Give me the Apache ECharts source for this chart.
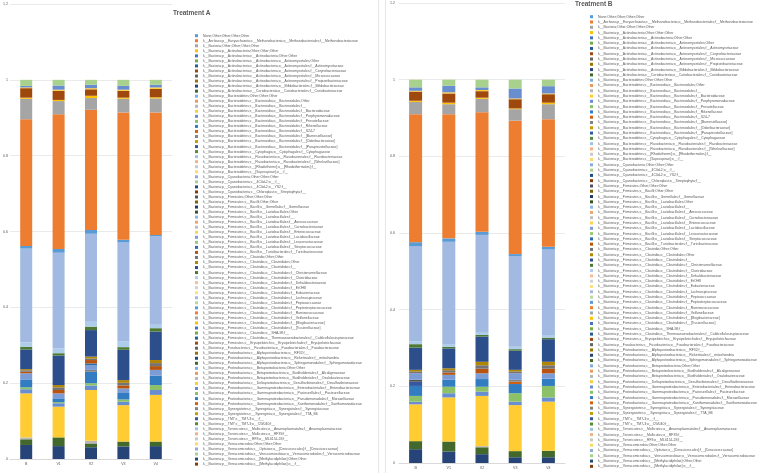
<!DOCTYPE html>
<html><head><meta charset="utf-8">
<script src="https://cdn.jsdelivr.net/npm/echarts@6/dist/echarts.min.js"></script>
<style>html,body{margin:0;padding:0;background:#fff}#c{width:757px;height:473px}</style>
</head><body><div id="c"></div>
<script>
// ---------- data ----------
const categories = ['B', 'V1', 'V2', 'V3', 'V4'];
const titles = ['Treatment A', 'Treatment B'];
const taxa = [
"None;Other;Other;Other;Other",
"k__Archaea;p__Euryarchaeota;c__Methanobacteria;o__Methanobacteriales;f__Methanobacteriaceae",
"k__Bacteria;Other;Other;Other;Other",
"k__Bacteria;p__Actinobacteria;Other;Other;Other",
"k__Bacteria;p__Actinobacteria;c__Actinobacteria;Other;Other",
"k__Bacteria;p__Actinobacteria;c__Actinobacteria;o__Actinomycetales;Other",
"k__Bacteria;p__Actinobacteria;c__Actinobacteria;o__Actinomycetales;f__Actinomycetaceae",
"k__Bacteria;p__Actinobacteria;c__Actinobacteria;o__Actinomycetales;f__Corynebacteriaceae",
"k__Bacteria;p__Actinobacteria;c__Actinobacteria;o__Actinomycetales;f__Micrococcaceae",
"k__Bacteria;p__Actinobacteria;c__Actinobacteria;o__Actinomycetales;f__Propionibacteriaceae",
"k__Bacteria;p__Actinobacteria;c__Actinobacteria;o__Bifidobacteriales;f__Bifidobacteriaceae",
"k__Bacteria;p__Actinobacteria;c__Coriobacteriia;o__Coriobacteriales;f__Coriobacteriaceae",
"k__Bacteria;p__Bacteroidetes;Other;Other;Other",
"k__Bacteria;p__Bacteroidetes;c__Bacteroidia;o__Bacteroidales;Other",
"k__Bacteria;p__Bacteroidetes;c__Bacteroidia;o__Bacteroidales;f__",
"k__Bacteria;p__Bacteroidetes;c__Bacteroidia;o__Bacteroidales;f__Bacteroidaceae",
"k__Bacteria;p__Bacteroidetes;c__Bacteroidia;o__Bacteroidales;f__Porphyromonadaceae",
"k__Bacteria;p__Bacteroidetes;c__Bacteroidia;o__Bacteroidales;f__Prevotellaceae",
"k__Bacteria;p__Bacteroidetes;c__Bacteroidia;o__Bacteroidales;f__Rikenellaceae",
"k__Bacteria;p__Bacteroidetes;c__Bacteroidia;o__Bacteroidales;f__S24-7",
"k__Bacteria;p__Bacteroidetes;c__Bacteroidia;o__Bacteroidales;f__[Barnesiellaceae]",
"k__Bacteria;p__Bacteroidetes;c__Bacteroidia;o__Bacteroidales;f__[Odoribacteraceae]",
"k__Bacteria;p__Bacteroidetes;c__Bacteroidia;o__Bacteroidales;f__[Paraprevotellaceae]",
"k__Bacteria;p__Bacteroidetes;c__Cytophagia;o__Cytophagales;f__Cytophagaceae",
"k__Bacteria;p__Bacteroidetes;c__Flavobacteriia;o__Flavobacteriales;f__Flavobacteriaceae",
"k__Bacteria;p__Bacteroidetes;c__Flavobacteriia;o__Flavobacteriales;f__[Weeksellaceae]",
"k__Bacteria;p__Bacteroidetes;c__[Rhodothermi];o__[Rhodothermales];f__",
"k__Bacteria;p__Bacteroidetes;c__[Saprospirae];o__;f__",
"k__Bacteria;p__Cyanobacteria;Other;Other;Other",
"k__Bacteria;p__Cyanobacteria;c__4C0d-2;o__;f__",
"k__Bacteria;p__Cyanobacteria;c__4C0d-2;o__YS2;f__",
"k__Bacteria;p__Cyanobacteria;c__Chloroplast;o__Streptophyta;f__",
"k__Bacteria;p__Firmicutes;Other;Other;Other",
"k__Bacteria;p__Firmicutes;c__Bacilli;Other;Other",
"k__Bacteria;p__Firmicutes;c__Bacilli;o__Gemellales;f__Gemellaceae",
"k__Bacteria;p__Firmicutes;c__Bacilli;o__Lactobacillales;Other",
"k__Bacteria;p__Firmicutes;c__Bacilli;o__Lactobacillales;f__",
"k__Bacteria;p__Firmicutes;c__Bacilli;o__Lactobacillales;f__Aerococcaceae",
"k__Bacteria;p__Firmicutes;c__Bacilli;o__Lactobacillales;f__Carnobacteriaceae",
"k__Bacteria;p__Firmicutes;c__Bacilli;o__Lactobacillales;f__Enterococcaceae",
"k__Bacteria;p__Firmicutes;c__Bacilli;o__Lactobacillales;f__Lactobacillaceae",
"k__Bacteria;p__Firmicutes;c__Bacilli;o__Lactobacillales;f__Leuconostocaceae",
"k__Bacteria;p__Firmicutes;c__Bacilli;o__Lactobacillales;f__Streptococcaceae",
"k__Bacteria;p__Firmicutes;c__Bacilli;o__Turicibacterales;f__Turicibacteraceae",
"k__Bacteria;p__Firmicutes;c__Clostridia;Other;Other",
"k__Bacteria;p__Firmicutes;c__Clostridia;o__Clostridiales;Other",
"k__Bacteria;p__Firmicutes;c__Clostridia;o__Clostridiales;f__",
"k__Bacteria;p__Firmicutes;c__Clostridia;o__Clostridiales;f__Christensenellaceae",
"k__Bacteria;p__Firmicutes;c__Clostridia;o__Clostridiales;f__Clostridiaceae",
"k__Bacteria;p__Firmicutes;c__Clostridia;o__Clostridiales;f__Dehalobacteriaceae",
"k__Bacteria;p__Firmicutes;c__Clostridia;o__Clostridiales;f__EtOH8",
"k__Bacteria;p__Firmicutes;c__Clostridia;o__Clostridiales;f__Eubacteriaceae",
"k__Bacteria;p__Firmicutes;c__Clostridia;o__Clostridiales;f__Lachnospiraceae",
"k__Bacteria;p__Firmicutes;c__Clostridia;o__Clostridiales;f__Peptococcaceae",
"k__Bacteria;p__Firmicutes;c__Clostridia;o__Clostridiales;f__Peptostreptococcaceae",
"k__Bacteria;p__Firmicutes;c__Clostridia;o__Clostridiales;f__Ruminococcaceae",
"k__Bacteria;p__Firmicutes;c__Clostridia;o__Clostridiales;f__Veillonellaceae",
"k__Bacteria;p__Firmicutes;c__Clostridia;o__Clostridiales;f__[Mogibacteriaceae]",
"k__Bacteria;p__Firmicutes;c__Clostridia;o__Clostridiales;f__[Tissierellaceae]",
"k__Bacteria;p__Firmicutes;c__Clostridia;o__SHA-98;f__",
"k__Bacteria;p__Firmicutes;c__Clostridia;o__Thermoanaerobacterales;f__Caldicellulosiruptoraceae",
"k__Bacteria;p__Firmicutes;c__Erysipelotrichi;o__Erysipelotrichales;f__Erysipelotrichaceae",
"k__Bacteria;p__Fusobacteria;c__Fusobacteriia;o__Fusobacteriales;f__Fusobacteriaceae",
"k__Bacteria;p__Proteobacteria;c__Alphaproteobacteria;o__RF32;f__",
"k__Bacteria;p__Proteobacteria;c__Alphaproteobacteria;o__Rickettsiales;f__mitochondria",
"k__Bacteria;p__Proteobacteria;c__Alphaproteobacteria;o__Sphingomonadales;f__Sphingomonadaceae",
"k__Bacteria;p__Proteobacteria;c__Betaproteobacteria;Other;Other",
"k__Bacteria;p__Proteobacteria;c__Betaproteobacteria;o__Burkholderiales;f__Alcaligenaceae",
"k__Bacteria;p__Proteobacteria;c__Betaproteobacteria;o__Burkholderiales;f__Oxalobacteraceae",
"k__Bacteria;p__Proteobacteria;c__Deltaproteobacteria;o__Desulfovibrionales;f__Desulfovibrionaceae",
"k__Bacteria;p__Proteobacteria;c__Gammaproteobacteria;o__Enterobacteriales;f__Enterobacteriaceae",
"k__Bacteria;p__Proteobacteria;c__Gammaproteobacteria;o__Pasteurellales;f__Pasteurellaceae",
"k__Bacteria;p__Proteobacteria;c__Gammaproteobacteria;o__Pseudomonadales;f__Moraxellaceae",
"k__Bacteria;p__Proteobacteria;c__Gammaproteobacteria;o__Xanthomonadales;f__Xanthomonadaceae",
"k__Bacteria;p__Synergistetes;c__Synergistia;o__Synergistales;f__Synergistaceae",
"k__Bacteria;p__Synergistetes;c__Synergistia;o__Synergistales;f__TTA_B6",
"k__Bacteria;p__TM7;c__TM7-3;o__;f__",
"k__Bacteria;p__TM7;c__TM7-3;o__CW040;f__",
"k__Bacteria;p__Tenericutes;c__Mollicutes;o__Anaeroplasmatales;f__Anaeroplasmataceae",
"k__Bacteria;p__Tenericutes;c__Mollicutes;o__RF39;f__",
"k__Bacteria;p__Tenericutes;c__RF3;o__ML615J-28;f__",
"k__Bacteria;p__Verrucomicrobia;Other;Other;Other",
"k__Bacteria;p__Verrucomicrobia;c__Opitutae;o__[Cerasicoccales];f__[Cerasicoccaceae]",
"k__Bacteria;p__Verrucomicrobia;c__Verrucomicrobiae;o__Verrucomicrobiales;f__Verrucomicrobiaceae",
"k__Bacteria;p__Verrucomicrobia;c__[Methylacidiphilae];Other;Other",
"k__Bacteria;p__Verrucomicrobia;c__[Methylacidiphilae];o__;f__"
];
// 1-based positions (in taxa) of the taxa that are visible in the stacks
const stackTaxa = [11,12,15,16,17,18,19,20,21,23,33,41,43,44,45,46,47,48,49,53,55,56,57,58,62,70,71,84];
// Treatment A, one array per sample, aligned with stackTaxa
const treatA_B  = [.037,.015,.005,.116,.011,.005,.021,0,0,0,0,.016,0,.004,.004,.003,.052,.007,.011,.248,.007,.334,.054,.003,.025,.002,.004,.016];
const treatA_V1 = [.034,.023,0,.081,.009,.003,.010,0,0,0,0,.013,0,.009,.007,.006,.078,.006,.013,.252,.010,.355,.035,.003,.024,.003,.011,.015];
const treatA_V2 = [.031,.010,.007,.134,.012,.006,.030,0,.005,0,0,.012,.005,.009,.004,.005,.070,.009,.013,.232,.010,.317,.031,.006,.017,.003,.009,.013];
const treatA_V3 = [.033,.013,0,.096,.009,.006,.017,0,0,0,0,.012,0,.008,.007,.007,.080,.007,.015,.261,.007,.336,.036,.003,.018,.003,.010,.016];
const treatA_V4 = [.034,.012,0,.123,.013,.013,.025,0,0,0,0,.015,0,.010,.008,.008,.075,.009,.009,.233,.004,.323,.037,.003,.022,.004,.007,.013];
// Treatment B
const treatB_B  = [.036,.021,0,.096,.007,.015,.026,0,0,.011,.005,.017,0,0,.005,.004,.058,.009,.007,.249,.010,.334,.032,.003,.024,.002,.009,.020];
const treatB_V1 = [.030,.026,0,.115,.011,.017,.018,0,0,0,0,.013,0,.006,.006,.005,.052,.004,.007,.267,.009,.324,.026,.004,.024,.003,.017,.016];
const treatB_V2 = [.023,.018,.003,.131,.011,.013,.020,0,0,0,0,.015,0,.012,.009,.009,.066,.004,.006,.255,.008,.312,.035,.003,.017,.003,.007,.020];
const treatB_V3 = [.015,.016,0,.120,.009,.022,.024,.006,.005,0,0,.017,0,0,.005,.004,.050,.004,.006,.237,.005,.348,.030,.002,.024,.002,.026,.023];
const treatB_V4 = [.015,.017,0,.128,.011,.030,.019,0,0,0,0,.014,0,.012,.009,.009,.059,.004,.007,.224,.006,.333,.039,.004,.022,.002,.019,.017];
const yTicks = { min: 0, max: 1.2, interval: 0.2 };

// ---------- colours (Office palette with shade cycles) ----------
const accents = ['#5B9BD5','#ED7D31','#A5A5A5','#FFC000','#4472C4','#70AD47'];
const shadeCycle = [[1,0],[0.6,0],[0.8,0.2],[0.8,0],[0.6,0.4],[0.5,0],[0.7,0.3],[0.7,0],[0.5,0.5]];
function lum(hex, mod, off) {
  let r = parseInt(hex.slice(1,3),16)/255, g = parseInt(hex.slice(3,5),16)/255, b = parseInt(hex.slice(5,7),16)/255;
  const mx = Math.max(r,g,b), mn = Math.min(r,g,b);
  let h = 0, s = 0, l = (mx+mn)/2;
  const d = mx - mn;
  if (d > 0) {
    s = d / (1 - Math.abs(2*l - 1));
    if (mx === r) h = ((g - b)/d) % 6; else if (mx === g) h = (b - r)/d + 2; else h = (r - g)/d + 4;
    h *= 60; if (h < 0) h += 360;
  }
  l = Math.min(1, l*mod + off);
  const c = (1 - Math.abs(2*l - 1)) * s, x = c * (1 - Math.abs((h/60) % 2 - 1)), m = l - c/2;
  let rr, gg, bb;
  if (h < 60) [rr,gg,bb] = [c,x,0]; else if (h < 120) [rr,gg,bb] = [x,c,0]; else if (h < 180) [rr,gg,bb] = [0,c,x];
  else if (h < 240) [rr,gg,bb] = [0,x,c]; else if (h < 300) [rr,gg,bb] = [x,0,c]; else [rr,gg,bb] = [c,0,x];
  const t = v => Math.round((v + m)*255).toString(16).padStart(2,'0');
  return '#' + t(rr) + t(gg) + t(bb);
}
function taxonColor(i) { const s = shadeCycle[Math.floor(i/6) % 9]; return lum(accents[i % 6], s[0], s[1]); }

// ---------- chart ----------
const panels = [
  { samples: [treatA_B, treatA_V1, treatA_V2, treatA_V3, treatA_V4] },
  { samples: [treatB_B, treatB_V1, treatB_V2, treatB_V3, treatB_V4] }
];
const grey = '#595959';
const FONT = 'Liberation Sans';
const series = [];
panels.forEach((p, pi) => {
  taxa.forEach((name, ti) => {
    const k = stackTaxa.indexOf(ti + 1);
    series.push({
      type: 'bar', name: name, stack: 'p' + pi, xAxisIndex: pi, yAxisIndex: pi,
      barWidth: pi === 0 ? 12 : 13,
      itemStyle: { color: taxonColor(ti) },
      data: p.samples.map(s => k >= 0 ? s[k] : 0)
    });
  });
});
const legendBase = {
  orient: 'vertical', padding: 0, itemWidth: 3, itemHeight: 3, icon: 'rect',
  selectedMode: false, data: taxa,
  textStyle: { fontSize: 3.45, lineHeight: 4, color: grey, fontFamily: FONT }
};
const axisLabel = { fontSize: 3.6, color: grey, fontFamily: FONT };
const option = {
  animation: false,
  backgroundColor: '#fff',
  title: [
    { text: titles[0], left: 173, top: 9.5, padding: 0, textStyle: { fontSize: 6.5, fontWeight: 'bold', color: grey, fontFamily: FONT } },
    { text: titles[1], left: 575, top: 1, padding: 0, textStyle: { fontSize: 6.5, fontWeight: 'bold', color: grey, fontFamily: FONT } }
  ],
  legend: [
    Object.assign({}, legendBase, { left: 195, top: 33.7, itemGap: 1.04 }),
    Object.assign({}, legendBase, { left: 590, top: 14.7, itemGap: 1.29 })
  ],
  grid: [
    { left: 10, top: 4, width: 162, height: 455 },
    { left: 399, top: 3, width: 166, height: 460 }
  ],
  xAxis: [0, 1].map(i => ({
    type: 'category', gridIndex: i, data: categories,
    axisLine: { lineStyle: { color: '#D9D9D9' } }, axisTick: { show: false },
    axisLabel: Object.assign({ margin: 3 }, axisLabel)
  })),
  yAxis: [0, 1].map(i => ({
    type: 'value', gridIndex: i, min: yTicks.min, max: yTicks.max, interval: yTicks.interval,
    axisLine: { show: false }, axisTick: { show: false },
    splitLine: { lineStyle: { color: '#E4E4E4', width: 0.8 } },
    axisLabel: Object.assign({ margin: i === 0 ? 2 : 4 }, axisLabel)
  })),
  graphic: [
    { type: 'line', shape: { x1: 378.5, y1: 0, x2: 378.5, y2: 473 }, style: { stroke: '#E6E6E6', lineWidth: 1 } },
    { type: 'line', shape: { x1: 385.5, y1: 0, x2: 385.5, y2: 473 }, style: { stroke: '#E6E6E6', lineWidth: 1 } }
  ],
  series: series
};
const chart = echarts.init(document.getElementById('c'), null, { renderer: 'canvas' });
chart.setOption(option);
</script></body></html>
